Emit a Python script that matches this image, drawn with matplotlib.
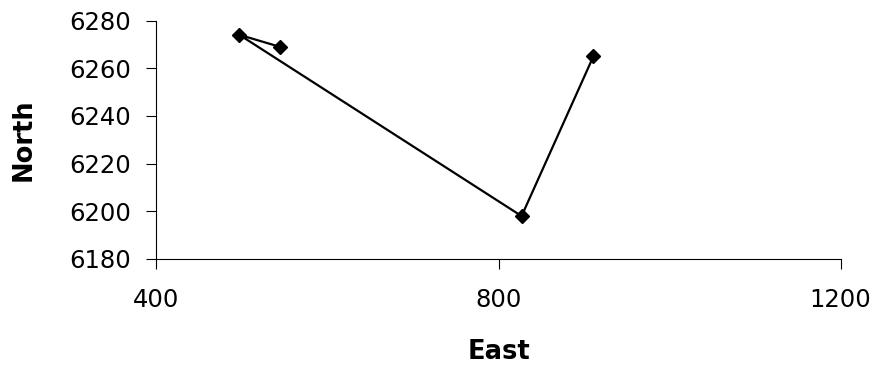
import matplotlib
matplotlib.use("Agg")
import matplotlib.pyplot as plt

# Survey traverse coordinates, in the order they were visited
east = [544, 497, 827, 911]
north = [6269, 6274, 6198, 6265]

x_ticks = [400, 800, 1200]
y_ticks = [6180, 6200, 6220, 6240, 6260, 6280]

plt.rcParams["font.family"] = ["DejaVu Sans"]

fig = plt.figure(figsize=(8.73, 3.68), dpi=100)
ax = fig.add_axes([156.4 / 873, 1 - 259 / 368, (840.6 - 156.4) / 873, (259 - 20.5) / 368])

ax.plot(east, north, color="black", linewidth=1.6,
        marker="D", markersize=7, markerfacecolor="black",
        markeredgecolor="black", markeredgewidth=1)

ax.set_xlim(400, 1200)
ax.set_ylim(6180, 6280)
ax.set_xticks(x_ticks)
ax.set_yticks(y_ticks)

for side in ("top", "right"):
    ax.spines[side].set_visible(False)
for side in ("left", "bottom"):
    ax.spines[side].set_linewidth(0.8)
    ax.spines[side].set_color("black")

ax.tick_params(axis="both", direction="out", length=7, width=0.8,
               labelsize=17.5, colors="black")
ax.tick_params(axis="x", pad=14)
ax.tick_params(axis="y", pad=11)

ax.set_xlabel("East", fontsize=18.5, fontweight="bold", labelpad=19)
ax.set_ylabel("North", fontsize=18.5, fontweight="bold", labelpad=24)

fig.savefig("out.png", dpi=100)
